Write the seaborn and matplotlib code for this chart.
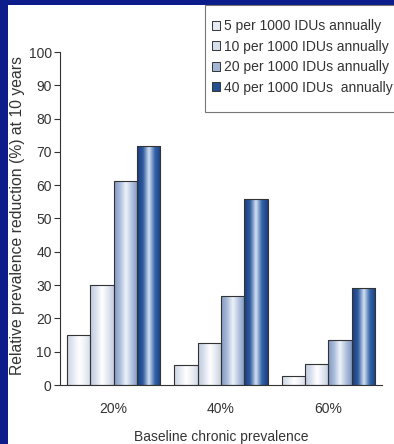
import numpy as np
import pandas as pd
import seaborn as sns
import matplotlib.pyplot as plt
from matplotlib.colors import LinearSegmentedColormap
from matplotlib.patches import Patch, Rectangle

categories = ["20%", "40%", "60%"]
rates = ["5 per 1000 IDUs annually", "10 per 1000 IDUs annually",
         "20 per 1000 IDUs annually", "40 per 1000 IDUs  annually"]
reduction_5 = [15, 6, 2.8]
reduction_10 = [30, 12.7, 6.4]
reduction_20 = [61.3, 26.6, 13.6]
reduction_40 = [71.8, 56, 29.2]

df = pd.DataFrame({
    "prevalence": categories * 4,
    "rate": [r for r in rates for _ in categories],
    "reduction": reduction_5 + reduction_10 + reduction_20 + reduction_40,
})

sns.set_style("white")
plt.rcParams["font.family"] = ["Liberation Sans", "DejaVu Sans"]

# horizontal gradients per series (edge -> highlight -> edge)
gradients = [
    ["#cdd5e4", "#e4e9f2", "#ffffff", "#eef1f7", "#d3dae8"],
    ["#bfcadf", "#d9e0ed", "#ffffff", "#e3e8f2", "#c3cde0"],
    ["#7f98c2", "#a9bbd9", "#eef3fa", "#b3c3de", "#8099c2"],
    ["#173d80", "#2f5b9e", "#d5e2f3", "#3565a8", "#183f82"],
]
mid_colors = ["#e6eaf2", "#d6deeb", "#a3b5d5", "#24508f"]

fig = plt.figure(figsize=(3.94, 4.44), dpi=100)
fig.patch.set_facecolor("#0c1c8a")
fig.patches.append(Rectangle((8 / 394, 0), 1, 1 - 5 / 444, transform=fig.transFigure,
                             facecolor="white", edgecolor="none", zorder=-2))

ax = fig.add_axes([60 / 394, 1 - 385 / 444, 322 / 394, 333 / 444])
ax.set_facecolor("none")
sns.barplot(data=df, x="prevalence", y="reduction", hue="rate", hue_order=rates,
            order=categories, palette=mid_colors, width=0.87, edgecolor="#333333",
            linewidth=0.8, legend=False, ax=ax)

# overlay gradient fills clipped to each bar
for i, patch in enumerate(ax.patches):
    cmap = LinearSegmentedColormap.from_list("g%d" % i, gradients[i // 3])
    x0, y0 = patch.get_x(), patch.get_y()
    w, h = patch.get_width(), patch.get_height()
    img = ax.imshow(np.linspace(0, 1, 64).reshape(1, -1), cmap=cmap, aspect="auto",
                    extent=[x0, x0 + w, y0, y0 + h], zorder=patch.get_zorder() - 0.1,
                    interpolation="bilinear")
    img.set_clip_path(patch)
    patch.set_facecolor("none")

ax.set_xlim(-0.5, 2.5)
ax.set_ylim(0, 100)
ax.set_yticks(range(0, 101, 10))
ax.set_xticks([-0.5, 0.5, 1.5, 2.5], minor=True)
ax.tick_params(axis="x", which="major", length=0, labelsize=10, pad=12, colors="#333333")
ax.tick_params(axis="x", which="minor", length=5, width=0.8, color="#333333")
ax.tick_params(axis="y", length=4, width=0.8, color="#333333", labelsize=10, pad=2,
               labelcolor="#333333", left=True)
for side in ["top", "right"]:
    ax.spines[side].set_visible(False)
for side in ["left", "bottom"]:
    ax.spines[side].set_color("#333333")
    ax.spines[side].set_linewidth(0.8)

ax.set_xlabel("Baseline chronic prevalence", fontsize=10, color="#333333")
ax.xaxis.set_label_coords(0.5, -0.135)
ax.set_ylabel("Relative prevalence reduction (%) at 10 years", fontsize=11.3, color="#333333")
ax.yaxis.set_label_coords(-0.108, 0.51)

# legend box running off the right edge
fig.patches.append(Rectangle((205 / 394, 1 - 112 / 444), 0.6, 107 / 444,
                             transform=fig.transFigure, facecolor="white",
                             edgecolor="#777777", linewidth=0.8, zorder=-1))
handles = [Patch(facecolor=c, edgecolor="#333333", linewidth=0.7) for c in mid_colors]
leg = fig.legend(handles, rates, loc="upper left", bbox_to_anchor=(212 / 394, 1 - 19 / 444),
                 frameon=False, fontsize=10, handlelength=0.6, handleheight=0.6,
                 handletextpad=0.25, labelspacing=0.47, borderpad=0, borderaxespad=0)
for t in leg.get_texts():
    t.set_color("#333333")

fig.savefig("out.png", dpi=100, facecolor=fig.get_facecolor())
